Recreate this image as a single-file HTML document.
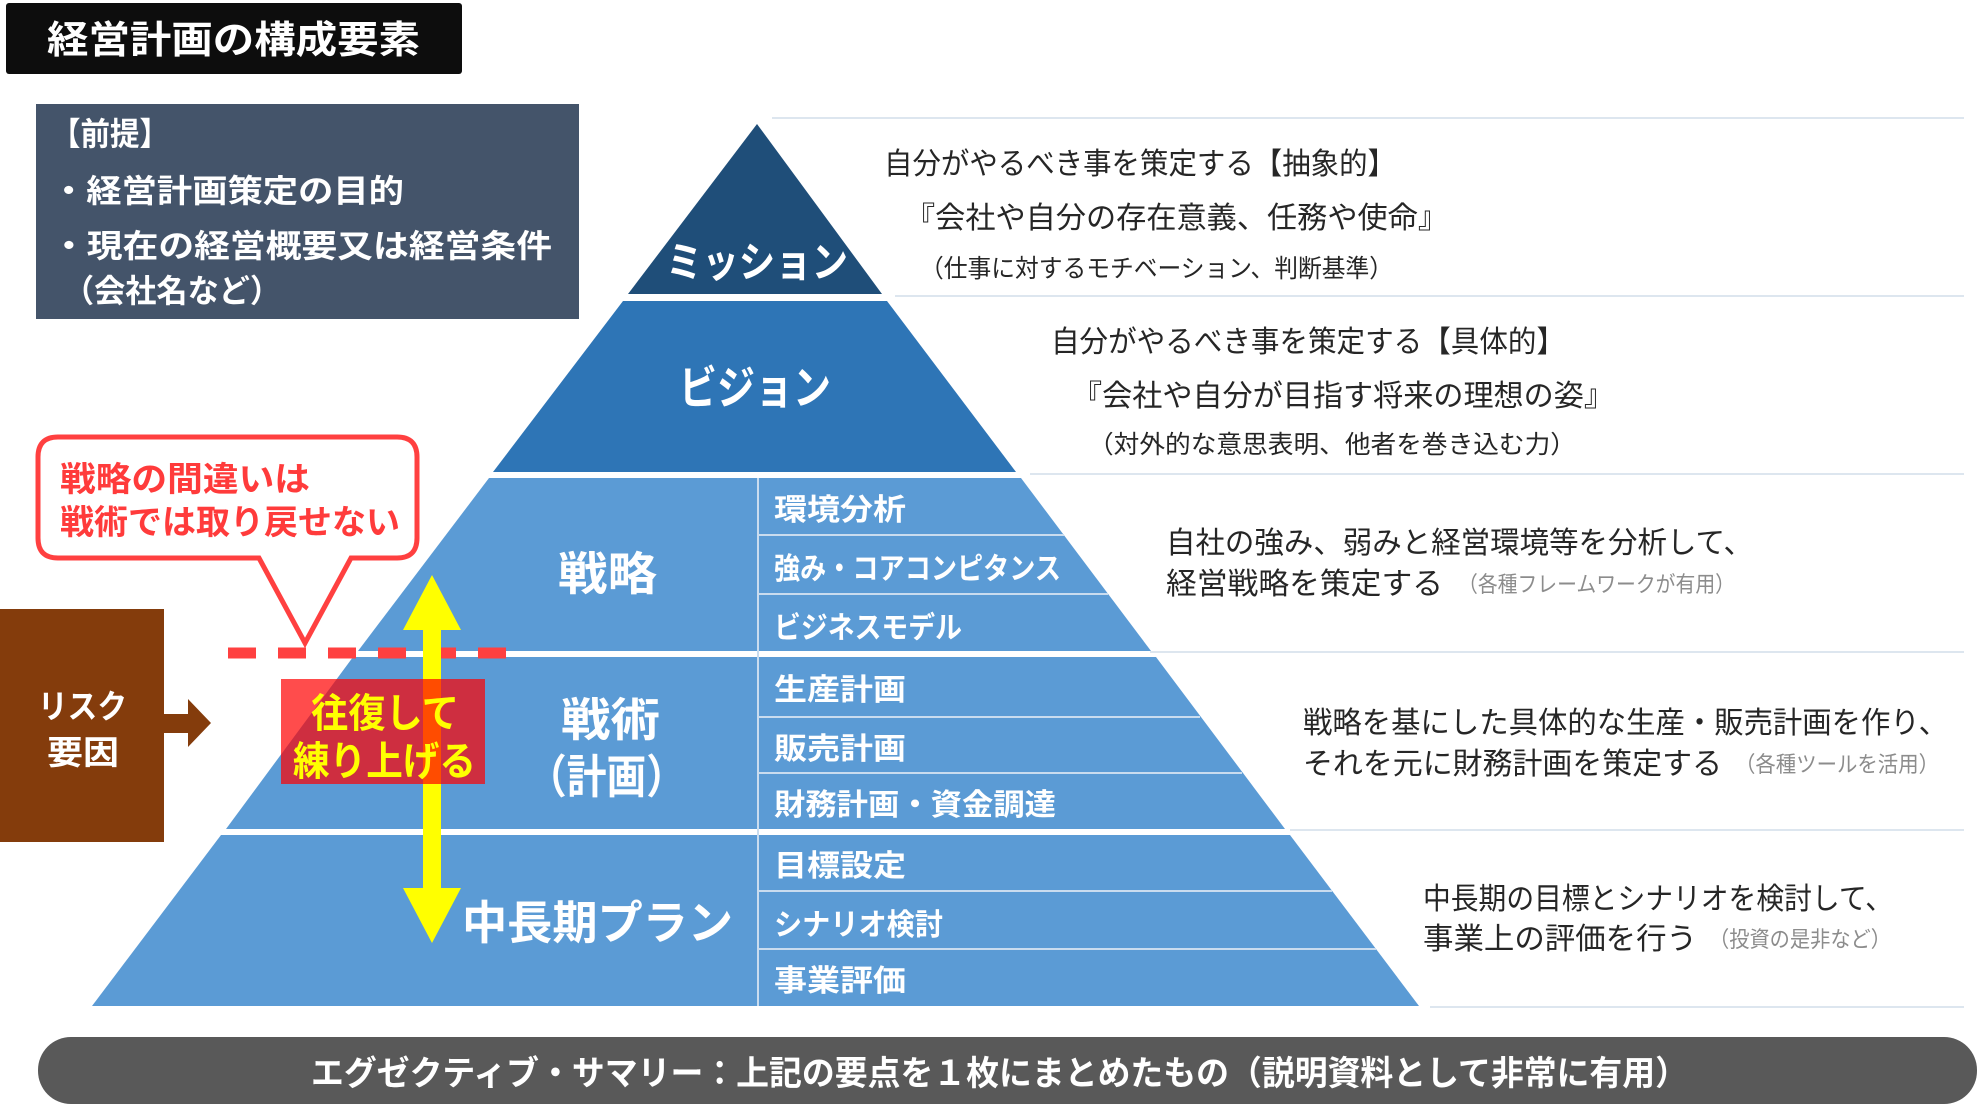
<!DOCTYPE html>
<html><head><meta charset="utf-8"><style>
html,body{margin:0;padding:0;background:#fff;}
svg{display:block;}
text{font-family:"Liberation Sans","Noto Sans CJK JP",sans-serif;}
.b{font-weight:bold;}
</style></head><body>
<svg width="1980" height="1111" viewBox="0 0 1980 1111" xmlns="http://www.w3.org/2000/svg">
<rect width="1980" height="1111" fill="#fff"/>
<!-- title -->
<rect x="6" y="3" width="456" height="71" rx="3" fill="#0d0d0d"/>
<text x="47" y="53" class="b" font-size="38" fill="#fff" textLength="373" lengthAdjust="spacingAndGlyphs">経営計画の構成要素</text>
<!-- premise -->
<rect x="36" y="104" width="543" height="215" fill="#44546a"/>
<g class="b" font-size="32" fill="#fff">
<text x="51" y="145" textLength="118" lengthAdjust="spacingAndGlyphs">【前提】</text>
<text x="51" y="202" textLength="353" lengthAdjust="spacingAndGlyphs">・経営計画策定の目的</text>
<text x="51" y="257" textLength="501" lengthAdjust="spacingAndGlyphs">・現在の経営概要又は経営条件</text>
<text x="63" y="302" textLength="218" lengthAdjust="spacingAndGlyphs">（会社名など）</text>
</g>
<!-- right separator lines -->
<g stroke="#dde6ef" stroke-width="2">
<line x1="772" y1="118" x2="1964" y2="118"/>
<line x1="895" y1="296" x2="1964" y2="296"/>
<line x1="1030" y1="474" x2="1964" y2="474"/>
<line x1="1150" y1="652" x2="1964" y2="652"/>
<line x1="1290" y1="830" x2="1964" y2="830"/>
<line x1="1430" y1="1007" x2="1964" y2="1007"/>
</g>
<!-- pyramid layers -->
<polygon points="757,124 882,294 628,294" fill="#1f4e79"/>
<polygon points="623,301 887,301 1016,472 493,472" fill="#2e75b6"/>
<polygon points="489,478 1021,478 1151,651 358,651" fill="#5b9bd5"/>
<polygon points="353,657 1156,657 1285,829 226,829" fill="#5b9bd5"/>
<polygon points="221,835 1290,835 1419,1006 92,1006" fill="#5b9bd5"/>
<!-- divider and sub rows -->
<g stroke="#c9dcef" stroke-width="2">
<line x1="758" y1="478" x2="758" y2="1006"/>
<line x1="758" y1="535" x2="1064" y2="535"/>
<line x1="758" y1="594" x2="1108" y2="594"/>
<line x1="758" y1="717" x2="1200" y2="717"/>
<line x1="758" y1="773" x2="1242" y2="773"/>
<line x1="758" y1="891" x2="1332" y2="891"/>
<line x1="758" y1="949" x2="1376" y2="949"/>
</g>
<!-- layer titles -->
<g class="b" fill="#fff">
<text x="666" y="277" font-size="42" textLength="182" lengthAdjust="spacingAndGlyphs">ミッション</text>
<text x="679" y="404" font-size="46" textLength="152" lengthAdjust="spacingAndGlyphs">ビジョン</text>
<text x="558" y="590" font-size="46" textLength="99" lengthAdjust="spacingAndGlyphs">戦略</text>
<text x="561" y="736" font-size="46" textLength="99" lengthAdjust="spacingAndGlyphs">戦術</text>
<text x="527" y="793" font-size="46" textLength="159" lengthAdjust="spacingAndGlyphs">（計画）</text>
<text x="462" y="939" font-size="46" textLength="271" lengthAdjust="spacingAndGlyphs">中長期プラン</text>
</g>
<g class="b" fill="#fff" font-size="30">
<text x="774" y="520" textLength="132" lengthAdjust="spacingAndGlyphs">環境分析</text>
<text x="774" y="579" textLength="287" lengthAdjust="spacingAndGlyphs">強み・コアコンピタンス</text>
<text x="774" y="638" textLength="188" lengthAdjust="spacingAndGlyphs">ビジネスモデル</text>
<text x="774" y="700" textLength="132" lengthAdjust="spacingAndGlyphs">生産計画</text>
<text x="774" y="759" textLength="132" lengthAdjust="spacingAndGlyphs">販売計画</text>
<text x="774" y="815" textLength="282" lengthAdjust="spacingAndGlyphs">財務計画・資金調達</text>
<text x="774" y="876" textLength="132" lengthAdjust="spacingAndGlyphs">目標設定</text>
<text x="774" y="935" textLength="169" lengthAdjust="spacingAndGlyphs">シナリオ検討</text>
<text x="774" y="991" textLength="132" lengthAdjust="spacingAndGlyphs">事業評価</text>
</g>
<!-- right descriptions -->
<g fill="#262626">
<text x="884" y="174" font-size="30" textLength="512" lengthAdjust="spacingAndGlyphs">自分がやるべき事を策定する【抽象的】</text>
<text x="905" y="228" font-size="30" textLength="543" lengthAdjust="spacingAndGlyphs">『会社や自分の存在意義、任務や使命』</text>
<text x="920" y="277" font-size="25" textLength="473" lengthAdjust="spacingAndGlyphs">（仕事に対するモチベーション、判断基準）</text>
<text x="1051" y="352" font-size="30" textLength="514" lengthAdjust="spacingAndGlyphs">自分がやるべき事を策定する【具体的】</text>
<text x="1072" y="406" font-size="30" textLength="542" lengthAdjust="spacingAndGlyphs">『会社や自分が目指す将来の理想の姿』</text>
<text x="1088" y="453" font-size="25" textLength="488" lengthAdjust="spacingAndGlyphs">（対外的な意思表明、他者を巻き込む力）</text>
<text x="1166" y="553" font-size="30" textLength="587" lengthAdjust="spacingAndGlyphs">自社の強み、弱みと経営環境等を分析して、</text>
<text x="1166" y="594" font-size="30" textLength="277" lengthAdjust="spacingAndGlyphs">経営戦略を策定する</text>
<text x="1303" y="733" font-size="30" textLength="645" lengthAdjust="spacingAndGlyphs">戦略を基にした具体的な生産・販売計画を作り、</text>
<text x="1303" y="774" font-size="30" textLength="419" lengthAdjust="spacingAndGlyphs">それを元に財務計画を策定する</text>
<text x="1423" y="909" font-size="30" textLength="470" lengthAdjust="spacingAndGlyphs">中長期の目標とシナリオを検討して、</text>
<text x="1423" y="949" font-size="30" textLength="274" lengthAdjust="spacingAndGlyphs">事業上の評価を行う</text>
</g>
<g fill="#8c8c8c" font-size="22">
<text x="1458" y="592" textLength="277" lengthAdjust="spacingAndGlyphs">（各種フレームワークが有用）</text>
<text x="1735" y="772" textLength="204" lengthAdjust="spacingAndGlyphs">（各種ツールを活用）</text>
<text x="1709" y="947" textLength="182" lengthAdjust="spacingAndGlyphs">（投資の是非など）</text>
</g>
<!-- callout -->
<path d="M58,437 H397 Q417,437 417,457 V538 Q417,558 397,558 H351 L305,643 L259,558 H58 Q38,558 38,538 V457 Q38,437 58,437 Z" fill="#fff" stroke="#ff4040" stroke-width="5" stroke-linejoin="miter"/>
<g class="b" fill="#ff3b3b" font-size="34">
<text x="60" y="491" textLength="250" lengthAdjust="spacingAndGlyphs">戦略の間違いは</text>
<text x="60" y="534" textLength="340" lengthAdjust="spacingAndGlyphs">戦術では取り戻せない</text>
</g>
<!-- risk box -->
<rect x="0" y="609" width="164" height="233" fill="#843c0c"/>
<polygon points="164,714 188,714 188,699 211,723 188,747 188,733 164,733" fill="#843c0c"/>
<g class="b" fill="#fff" font-size="33">
<text x="38" y="718" textLength="89" lengthAdjust="spacingAndGlyphs">リスク</text>
<text x="47" y="764" textLength="72" lengthAdjust="spacingAndGlyphs">要因</text>
</g>
<!-- dashed line -->
<line x1="228" y1="653" x2="516" y2="653" stroke="#ff4040" stroke-width="11" stroke-dasharray="28,22"/>
<!-- yellow arrow -->
<polygon points="432,575 461,630 441,630 441,888 461,888 432,943 403,888 423,888 423,630 403,630" fill="#ffff00"/>
<!-- red box -->
<rect x="281" y="679" width="204" height="105" fill="rgba(255,0,0,0.7)"/>
<g class="b" fill="#ffff00" font-size="40">
<text x="311" y="727" textLength="148" lengthAdjust="spacingAndGlyphs">往復して</text>
<text x="293" y="775" textLength="183" lengthAdjust="spacingAndGlyphs">練り上げる</text>
</g>
<!-- bottom bar -->
<rect x="38" y="1037" width="1939" height="67" rx="33" fill="#595959"/>
<text x="311" y="1085" class="b" font-size="34" fill="#fff" textLength="1377" lengthAdjust="spacingAndGlyphs">エグゼクティブ・サマリー：上記の要点を１枚にまとめたもの（説明資料として非常に有用）</text>
</svg>
</body></html>
